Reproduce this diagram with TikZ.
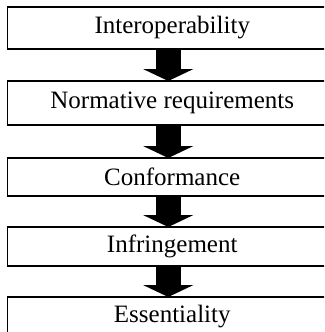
\documentclass[tikz,border=0pt]{standalone}
\usepackage{fontspec}
\setmainfont{Liberation Serif}
\usetikzlibrary{arrows.meta,positioning}

\begin{document}
\begin{tikzpicture}[
  x=1pt, y=-1pt,
  box/.style={draw,line width=1.4pt,minimum width=329.5pt,inner sep=0pt,outer sep=0pt,
    font=\fontsize{25}{30}\selectfont},
  arrow/.style={line width=25pt,-{Triangle[width=50pt,length=12pt]}}
]
\useasboundingbox (0,0) rectangle (324,332);
\clip (0,0) rectangle (324,332);

\node[box, minimum height=42pt, anchor=north west] (inter) at (7.5,7) {Interoperability};
\node[box, minimum height=44pt, below=32pt of inter] (norm) {Normative requirements};
\node[box, minimum height=38pt, below=33pt of norm] (conf) {Conformance};
\node[box, minimum height=39pt, below=31pt of conf] (infr) {Infringement};
\node[box, minimum height=40pt, below=31pt of infr] (ess) {Essentiality};

\draw[arrow] ([xshift=-4pt]inter.south) -- ([xshift=-4pt]norm.north);
\draw[arrow] ([xshift=-4pt]norm.south) -- ([xshift=-4pt]conf.north);
\draw[arrow] ([xshift=-4pt]conf.south) -- ([xshift=-4pt]infr.north);
\draw[arrow] ([xshift=-4pt]infr.south) -- ([xshift=-4pt]ess.north);
\end{tikzpicture}
\end{document}
